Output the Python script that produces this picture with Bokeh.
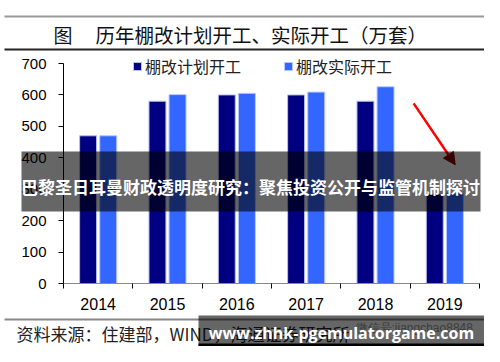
from bokeh.plotting import figure
from bokeh.models import (Range1d, FixedTicker, Label, BoxAnnotation, Arrow,
                          NormalHead, Legend, LegendItem, ColumnDataSource,
                          LinearAxis)
from bokeh.embed import file_html
from bokeh.resources import INLINE

years = ["2014", "2015", "2016", "2017", "2018", "2019"]
planned = [470, 580, 600, 600, 580, 285]
actual = [470, 601, 605, 609, 626, 288]
y_ticks = [0, 100, 200, 300, 400, 500, 600, 700]
series_names = ["棚改计划开工", "棚改实际开工"]
title_text = "历年棚改计划开工、实际开工（万套）"
source_text = "资料来源：住建部，WIND，海通证券研究所"
banner1_text = "巴黎圣日耳曼财政透明度研究：聚焦投资公开与监管机制探讨"
banner2_text = "www.zhhk-pgemulatorgame.com"
wm_text = "微信号:jiangchao8848"

W, H = 484, 346
CJK = "Noto Sans CJK SC"
LAT = "Liberation Sans"

n = len(years)
ymax = y_ticks[-1]
# plot area (pixels on the canvas) where the axes sit
PX0, PX1 = 63, 479      # x of category start / end
PY0, PY1 = 283, 63      # y of value 0 / value ymax
sx = (PX1 - PX0) / n
sy = (PY0 - PY1) / ymax
x_range = Range1d(-PX0 / sx, n + (W - PX1) / sx)
y_range = Range1d(-(H - PY0) / sy, ymax + PY1 / sy)

p = figure(width=W, height=H, output_backend="svg", toolbar_location=None,
           x_range=x_range, y_range=y_range,
           x_axis_type=None, y_axis_type=None,
           min_border_left=0, min_border_right=0,
           min_border_top=0, min_border_bottom=0)
p.outline_line_color = None
p.background_fill_color = "white"
p.border_fill_color = "white"

off, bw = 0.145, 0.245
src = ColumnDataSource(dict(
    xp=[i + 0.5 - off for i in range(n)],
    xa=[i + 0.5 + off for i in range(n)],
    planned=planned, actual=actual))
r1 = p.vbar(x="xp", top="planned", width=bw, bottom=0, source=src,
            fill_color="#000080", line_color="#b8c0f0", line_width=1)
r2 = p.vbar(x="xa", top="actual", width=bw, bottom=0, source=src,
            fill_color="#3366ff", line_color="#b8c8ff", line_width=1)

# axes
yax = LinearAxis(fixed_location=0, bounds=(0, ymax),
                 ticker=FixedTicker(ticks=y_ticks))
yax.major_tick_out = 5
yax.major_tick_in = 0
yax.minor_tick_line_color = None
yax.axis_line_color = "black"
yax.major_label_text_font = LAT
yax.major_label_text_font_size = "15px"
yax.major_label_text_color = "black"
yax.major_label_standoff = 12
p.add_layout(yax, "left")

xax = LinearAxis(fixed_location=0, bounds=(0, n),
                 ticker=FixedTicker(ticks=[i + 0.5 for i in range(n)],
                                    minor_ticks=list(range(n + 1))))
xax.major_label_overrides = {i + 0.5: y for i, y in enumerate(years)}
xax.major_tick_line_color = None
xax.minor_tick_out = 5
xax.minor_tick_in = 0
xax.minor_tick_line_color = "black"
xax.axis_line_color = "#888888"
xax.major_label_text_font = LAT
xax.major_label_text_font_size = "16px"
xax.major_label_text_color = "black"
xax.major_label_standoff = 8
p.add_layout(xax, "below")

# legend
leg = Legend(items=[LegendItem(label=series_names[0], renderers=[r1]),
                    LegendItem(label=series_names[1], renderers=[r2])],
             orientation="horizontal", location=(132, 268),
             glyph_width=10, glyph_height=10, label_height=16,
             label_standoff=3, spacing=42, padding=0, margin=0,
             label_text_font=CJK, label_text_font_size="16px",
             label_text_color="#222222",
             background_fill_alpha=0, border_line_color=None)
p.add_layout(leg, "center")

# arrow
p.add_layout(Arrow(x_start=5.05, y_start=573, x_end=5.65, y_end=378,
                   line_color="red", line_width=2.5,
                   end=NormalHead(size=12, fill_color="#8b0000",
                                  line_color="#8b0000")))


def box(l, t, r, b, color, alpha=1.0, level="overlay"):
    p.add_layout(BoxAnnotation(left=l, right=r, top=t, bottom=b,
                               left_units="canvas", right_units="canvas",
                               top_units="canvas", bottom_units="canvas",
                               fill_color=color, fill_alpha=alpha,
                               line_color=None, level=level))


def label(x, y, text, font, size, color="black", align="left", style="normal",
          alpha=1.0, level="overlay"):
    p.add_layout(Label(x=x, y=y, x_units="canvas", y_units="canvas",
                       text=text, text_font=font, text_font_size=size,
                       text_color=color, text_align=align, text_alpha=alpha,
                       text_baseline="middle", text_font_style=style,
                       level=level))


# title block
box(4, 15, 484, 17, "#999999")
label(53, 34, "图", CJK, "19px", "#111111")
label(95, 34, title_text, CJK, "19.5px", "#111111")
box(4, 48, 484, 50, "#222222")

# source block
box(4, 318, 484, 320, "#888888")
label(16, 333, source_text, CJK, "17px", "#222222")
label(355, 327, wm_text, LAT, "12px", "#999999")

# overlays
box(21, 151, 480, 211, "black", 0.6)
label(250, 186, banner1_text, CJK, "17px", "white", "center", "bold")
box(198, 315, 484, 346, "black", 0.6)
box(198, 343, 484, 346, "black", 1.0)
label(341, 332, banner2_text, "Open Sans", "16px", "white", "center", "bold")

open("out.html", "w").write(file_html(p, INLINE))
